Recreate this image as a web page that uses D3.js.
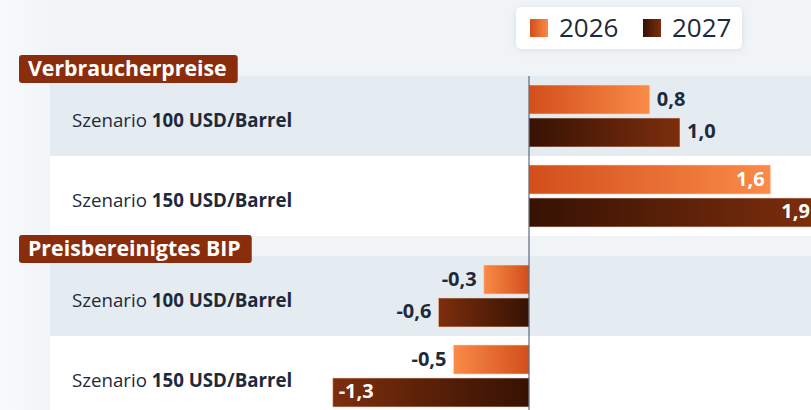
<!DOCTYPE html>
<meta charset="utf-8">
<style>
body { margin: 0; background: #f0f4f7; }
svg { display: block; font-family: "Open Sans", "Noto Sans", sans-serif; }
.row-label { font-size: 18.7px; fill: #1d2a3b; }
.row-label .b { font-weight: 700; }
.head text { font-size: 21.3px; font-weight: 700; fill: #fff; }
.val { font-size: 20px; font-weight: 700; }
.legend text { font-size: 26px; fill: #1d2a3b; }
</style>
<svg width="811" height="410"></svg>
<script src="https://cdn.jsdelivr.net/npm/d3@7"></script>
<script>

var groups = ["Verbraucherpreise", "Preisbereinigtes BIP"],
    scenarios = ["100 USD/Barrel", "150 USD/Barrel"],
    years = ["2026", "2027"];

// [Verbraucherpreise 100, 150, BIP 100, 150]
var values2026 = [0.8, 1.6, -0.3, -0.5],
    values2027 = [1.0, 1.9, -0.6, -1.3];

var svg = d3.select("svg"),
    width = +svg.attr("width"),
    height = +svg.attr("height");

var x = d3.scaleLinear().domain([0, 1]).range([529, 680]);

var groupTop = 56, groupH = 180, headH = 20, rowH = 80;

var yBar = d3.scaleBand().domain(years).range([9, 71]).paddingInner(0.12);

var colors = {
  "2026": ["#d24e1b", "#fa8b48"],
  "2027": ["#361203", "#7d2e0d"]
};

var defs = svg.append("defs");

years.forEach(function(yr) {
  ["pos", "neg"].forEach(function(dir) {
    var g = defs.append("linearGradient")
        .attr("id", "g" + yr + dir)
        .attr("x1", 0).attr("x2", 1).attr("y1", 0).attr("y2", 0);
    var c = dir == "pos" ? colors[yr] : colors[yr].slice().reverse();
    g.append("stop").attr("offset", 0).attr("stop-color", c[0]);
    g.append("stop").attr("offset", 1).attr("stop-color", c[1]);
  });
});

var lg = defs.append("linearGradient").attr("id", "leftfade")
    .attr("x1", 0).attr("x2", 1).attr("y1", 0).attr("y2", 0);
lg.append("stop").attr("offset", 0).attr("stop-color", "#f8fafc");
lg.append("stop").attr("offset", 1).attr("stop-color", "#f0f4f7");

var sh = defs.append("filter").attr("id", "shadow")
    .attr("x", -0.1).attr("y", -0.3).attr("width", 1.2).attr("height", 1.6);
sh.append("feDropShadow").attr("dx", 0).attr("dy", 1).attr("stdDeviation", 3)
    .attr("flood-color", "#8094a8").attr("flood-opacity", 0.25);

svg.append("rect").attr("width", width).attr("height", height).attr("fill", "#f0f4f7");
svg.append("rect").attr("width", 60).attr("height", height).attr("fill", "url(#leftfade)");

// rows
var rows = [];
groups.forEach(function(g, gi) {
  scenarios.forEach(function(s, si) {
    var i = gi * scenarios.length + si;
    rows.push({
      group: gi, scen: si, label: s,
      y: groupTop + gi * groupH + headH + si * rowH,
      vals: [values2026[i], values2027[i]]
    });
  });
});

svg.selectAll(".band")
  .data(rows)
  .enter().append("rect")
    .attr("class", "band")
    .attr("x", 50)
    .attr("y", function(d) { return d.y; })
    .attr("width", width - 50)
    .attr("height", rowH)
    .attr("fill", function(d) { return d.scen == 0 ? "#e5ecf1" : "#ffffff"; });

var row = svg.selectAll(".row")
  .data(rows)
  .enter().append("g")
    .attr("class", "row")
    .attr("transform", function(d) { return "translate(0," + d.y + ")"; });

var rl = row.append("text")
    .attr("class", "row-label")
    .attr("x", 72)
    .attr("y", rowH / 2 + 11);
rl.append("tspan").text("Szenario ");
rl.append("tspan").attr("class", "b").text(function(d) { return d.label; });

var bar = row.selectAll(".bar")
  .data(function(d) {
    return years.map(function(yr, k) { return { year: yr, v: d.vals[k] }; });
  })
  .enter().append("g");

bar.append("rect")
    .attr("x", function(d) { return Math.min(x(0), x(d.v)); })
    .attr("y", function(d) { return yBar(d.year); })
    .attr("width", function(d) { return Math.abs(x(d.v) - x(0)); })
    .attr("height", yBar.bandwidth())
    .attr("fill", function(d) { return "url(#g" + d.year + (d.v >= 0 ? "pos" : "neg") + ")"; })
    .attr("stroke", "#ffd9c2")
    .attr("stroke-opacity", 0.6)
    .attr("stroke-width", 1);

bar.append("text")
    .attr("class", "val")
    .attr("x", function(d) {
      var inside = Math.abs(d.v) >= 1.2, s = d.v >= 0 ? 1 : -1;
      return x(d.v) + (inside ? -s * 6 : s * 7);
    })
    .attr("y", function(d) { return yBar(d.year) + yBar.bandwidth() / 2 + 6; })
    .attr("text-anchor", function(d) {
      var inside = Math.abs(d.v) >= 1.2;
      return (d.v >= 0) != inside ? "start" : "end";
    })
    .attr("fill", function(d) { return Math.abs(d.v) >= 1.2 ? "#ffffff" : "#1d2a3b"; })
    .text(function(d) { return d3.format(".1f")(d.v).replace(".", ",").replace("−", "-"); });

// zero line
svg.append("line")
    .attr("x1", x(0)).attr("x2", x(0))
    .attr("y1", groupTop + headH).attr("y2", height)
    .attr("stroke", "#3f4f63").attr("stroke-width", 1);

// group headers
var head = svg.selectAll(".head")
  .data(groups)
  .enter().append("g")
    .attr("class", "head")
    .attr("transform", function(d, i) { return "translate(19," + (groupTop - 1 + i * groupH) + ")"; });

var ht = head.append("text")
    .attr("x", 9)
    .attr("y", 21)
    .text(function(d) { return d; });

head.insert("rect", "text")
    .attr("width", function() { return this.parentNode.querySelector("text").getComputedTextLength() + 20; })
    .attr("height", 28)
    .attr("rx", 3)
    .attr("fill", "#8a2d0c");

// legend
var legend = svg.append("g").attr("class", "legend");
legend.append("rect")
    .attr("x", 516).attr("y", 7).attr("width", 226).attr("height", 42).attr("rx", 5)
    .attr("fill", "#fff").attr("filter", "url(#shadow)");

var li = legend.selectAll(".li")
  .data(years)
  .enter().append("g")
    .attr("transform", function(d, i) { return "translate(" + (530 + i * 113) + ",19)"; });

li.append("rect")
    .attr("width", 18).attr("height", 18)
    .attr("fill", function(d) { return "url(#g" + d + "pos)"; });

li.append("text")
    .attr("x", 29)
    .attr("y", 18)
    .text(function(d) { return d; });

</script>
